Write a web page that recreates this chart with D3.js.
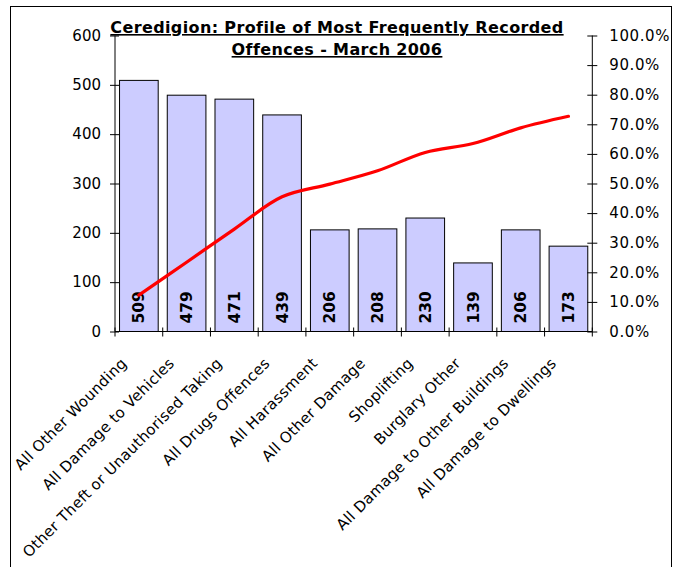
<!DOCTYPE html>
<html>
<head>
<meta charset="utf-8">
<script src="https://cdn.jsdelivr.net/npm/d3@7"></script>
<style>
  body { margin: 0; background: #fff; }
  text { font-family: Verdana, "DejaVu Sans", sans-serif; fill: #000; }
</style>
</head>
<body>
<svg id="chart" width="680" height="567"></svg>
<script>
// offences, counts (bars) and cumulative % line
var categories = ["All Other Wounding", "All Damage to Vehicles", "Other Theft or Unauthorised Taking",
                  "All Drugs Offences", "All Harassment", "All Other Damage", "Shoplifting",
                  "Burglary Other", "All Damage to Other Buildings", "All Damage to Dwellings"];
var counts = [509, 479, 471, 439, 206, 208, 230, 139, 206, 173];
var cumPct = [12.3, 23.4, 34.6, 45.5, 49.8, 54.3, 60.5, 63.5, 68.8, 72.7];
var countTicks = [0, 100, 200, 300, 400, 500, 600];
var pctTicks = [0, 10, 20, 30, 40, 50, 60, 70, 80, 90, 100];
var titleLines = ["Ceredigion: Profile of Most Frequently Recorded", "Offences - March 2006"];

var svg = d3.select("#chart");

var pLeft = 115, pRight = 592.3, pTop = 35.5, pBottom = 331.5;

// outer frame (bottom edge runs off the picture)
svg.append("rect")
    .attr("x", 10.5).attr("y", 6.5)
    .attr("width", 661).attr("height", 600)
    .attr("fill", "none").attr("stroke", "#000").attr("stroke-width", 1);

var x = d3.scaleBand()
    .domain(categories)
    .range([pLeft, pRight])
    .paddingInner(0.19)
    .paddingOuter(0.095);

var y = d3.scaleLinear().domain([0, 600]).range([pBottom, pTop]);
var y2 = d3.scaleLinear().domain([0, 100]).range([pBottom, pTop]);

// bars
svg.append("g")
    .selectAll("rect")
    .data(counts)
    .enter()
    .append("rect")
    .attr("x", (d, i) => x(categories[i]))
    .attr("y", d => y(d))
    .attr("width", x.bandwidth())
    .attr("height", d => pBottom - y(d))
    .attr("fill", "#ccccff")
    .attr("stroke", "#000")
    .attr("stroke-width", 1);

// value labels, rotated, sitting at bar bottoms
svg.append("g")
    .selectAll("text")
    .data(counts)
    .enter()
    .append("text")
    .attr("transform", (d, i) => "translate(" + (x(categories[i]) + x.bandwidth() / 2) + "," + (pBottom - 8) + ") rotate(-90)")
    .attr("dy", "0.36em")
    .style("font-size", "15.5px")
    .style("font-weight", "bold")
    .text(d => d);

// cumulative line (smoothed like the original)
var line = d3.line()
    .x((d, i) => x(categories[i]) + x.bandwidth() / 2)
    .y(d => y2(d))
    .curve(d3.curveCatmullRom.alpha(0.5));

svg.append("path")
    .datum(cumPct)
    .attr("d", line)
    .attr("fill", "none")
    .attr("stroke", "#ff0000")
    .attr("stroke-width", 3.2)
    .attr("stroke-linecap", "round")
    .attr("stroke-linejoin", "round");

// left axis
var yAxis = svg.append("g")
    .attr("transform", "translate(" + pLeft + ",0)")
    .call(d3.axisLeft(y).tickValues(countTicks).tickSize(5).tickPadding(9));
yAxis.select(".domain").remove();
yAxis.selectAll(".tick line").attr("x2", -5).attr("x1", 4).attr("stroke", "#000");
yAxis.selectAll("text").style("font-size", "15px").style("font-family", null);

// right axis
var y2Axis = svg.append("g")
    .attr("transform", "translate(" + pRight + ",0)")
    .call(d3.axisRight(y2).tickValues(pctTicks).tickSize(5).tickPadding(12)
        .tickFormat(d => d.toFixed(1) + "%"));
y2Axis.select(".domain").remove();
y2Axis.selectAll(".tick line").attr("x1", -5).attr("x2", 5).attr("stroke", "#000");
y2Axis.selectAll("text").style("font-size", "15px").style("letter-spacing", "0.6px").style("font-family", null);

// axis lines
svg.append("line")
    .attr("x1", pLeft).attr("x2", pLeft).attr("y1", pTop).attr("y2", pBottom)
    .attr("stroke", "#000");
svg.append("line")
    .attr("x1", pRight).attr("x2", pRight).attr("y1", pTop).attr("y2", pBottom)
    .attr("stroke", "#000");
svg.append("line")
    .attr("x1", pLeft).attr("x2", pRight).attr("y1", pBottom).attr("y2", pBottom)
    .attr("stroke", "#000");

// category ticks at band boundaries
var step = x.step();
var bounds = categories.map(c => x(c) - step * x.paddingInner() / 2).concat([pRight]);
svg.append("g")
    .selectAll("line")
    .data(bounds)
    .enter()
    .append("line")
    .attr("x1", d => d).attr("x2", d => d)
    .attr("y1", pBottom - 4).attr("y2", pBottom + 5)
    .attr("stroke", "#000");

// category labels at -45 degrees
svg.append("g")
    .selectAll("text")
    .data(categories)
    .enter()
    .append("text")
    .attr("transform", d => "translate(" + (x(d) + x.bandwidth() / 2 - 15) + "," + (pBottom + 29) + ") rotate(-45)")
    .attr("text-anchor", "end")
    .attr("dy", "0.35em")
    .style("font-size", "15px")
    .style("letter-spacing", "0.3px")
    .text(d => d);

// title
svg.append("g")
    .selectAll("text")
    .data(titleLines)
    .enter()
    .append("text")
    .attr("x", 337)
    .attr("y", (d, i) => 33 + i * 22)
    .attr("text-anchor", "middle")
    .style("font-size", "16px")
    .style("font-weight", "bold")
    .style("letter-spacing", "0.37px")
    .style("text-decoration", "underline")
    .text(d => d);
</script>
</body>
</html>
